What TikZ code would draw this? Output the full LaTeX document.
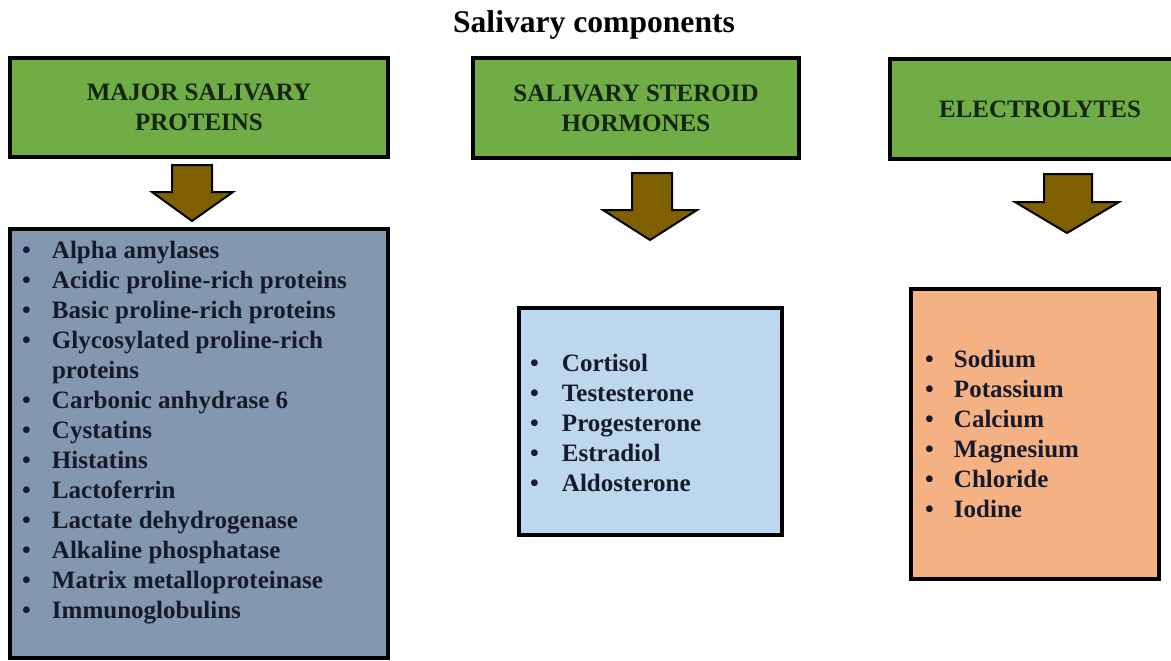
\documentclass[tikz,border=0pt]{standalone}
\usepackage{fontspec}
\setmainfont{Liberation Serif}
\usepackage{array}
\definecolor{hdrgreen}{HTML}{70AD47}
\definecolor{hdrtext}{HTML}{14240F}
\definecolor{slateblue}{HTML}{8497B0}
\definecolor{paleblue}{HTML}{BDD7EE}
\definecolor{peach}{HTML}{F4B183}
\definecolor{arrowbrown}{HTML}{7F6000}
\definecolor{listtext}{HTML}{161A2A}

\begin{document}
\begin{tikzpicture}[
		x=0.5pt, y=-0.5pt,
		every node/.style={inner sep=0pt, outer sep=0pt},
		headbox/.style={draw, line width=2pt, fill=hdrgreen, text=hdrtext, anchor=north west,
			align=center, font=\bfseries\fontsize{12.5}{15}\selectfont},
		listbox/.style={draw, line width=2pt, anchor=north west},
		itemlist/.style={anchor=base west, text=listtext, font=\bfseries\fontsize{12.5}{15}\selectfont},
		blockarrow/.style={draw, line width=1pt, fill=arrowbrown, line join=miter}
	]
  \useasboundingbox (0,0) rectangle (1171,660);
  \node (title) [anchor=base, font=\bfseries\fontsize{15.8}{19}\selectfont] at (594,32) {Salivary components};

  % headers
  \node (hdr_prot) [headbox, minimum width=189pt, minimum height=49.5pt] at (10,58) {MAJOR SALIVARY\\PROTEINS};
  \node (hdr_ster) [headbox, minimum width=163pt, minimum height=50pt] at (473,58) {SALIVARY STEROID\\HORMONES};
  \node (hdr_elec) [headbox, minimum width=150pt, minimum height=50pt] at (890,59) {ELECTROLYTES};

  % arrows
  \draw[blockarrow] (172,165) -- (212,165) -- (212,192) -- (233,192) -- (192,221) -- (152,192) -- (172,192) -- cycle;
  \draw[blockarrow] (632,173) -- (672,173) -- (672,210) -- (697,210) -- (650,240) -- (603,210) -- (632,210) -- cycle;
  \draw[blockarrow] (1044,174) -- (1092,174) -- (1092,202) -- (1119,202) -- (1067,233) -- (1015,202) -- (1044,202) -- cycle;

  % lists
  \node (box_prot) [listbox, fill=slateblue, minimum width=189pt, minimum height=214.5pt] at (10,229) {};
  \node (box_ster) [listbox, fill=paleblue, minimum width=131.5pt, minimum height=113.5pt] at (519,308) {};
  \node (box_elec) [listbox, fill=peach, minimum width=124pt, minimum height=145pt] at (911,289) {};

  \node (list_prot) [itemlist] at (22,258) {\begin{tabular}[t]{@{}p{15pt}@{}l@{}}
    \textbullet & Alpha amylases\\
    \textbullet & Acidic proline-rich proteins\\
    \textbullet & Basic proline-rich proteins\\
    \textbullet & Glycosylated proline-rich\\
                & proteins\\
    \textbullet & Carbonic anhydrase 6\\
    \textbullet & Cystatins\\
    \textbullet & Histatins\\
    \textbullet & Lactoferrin\\
    \textbullet & Lactate dehydrogenase\\
    \textbullet & Alkaline phosphatase\\
    \textbullet & Matrix metalloproteinase\\
    \textbullet & Immunoglobulins
  \end{tabular}};
  \node (list_ster) [itemlist] at (530,371) {\begin{tabular}[t]{@{}p{16pt}@{}l@{}}
    \textbullet & Cortisol\\
    \textbullet & Testesterone\\
    \textbullet & Progesterone\\
    \textbullet & Estradiol\\
    \textbullet & Aldosterone
  \end{tabular}};
  \node (list_elec) [itemlist] at (925,367) {\begin{tabular}[t]{@{}p{14.5pt}@{}l@{}}
    \textbullet & Sodium\\
    \textbullet & Potassium\\
    \textbullet & Calcium\\
    \textbullet & Magnesium\\
    \textbullet & Chloride\\
    \textbullet & Iodine
  \end{tabular}};
\end{tikzpicture}
\end{document}
